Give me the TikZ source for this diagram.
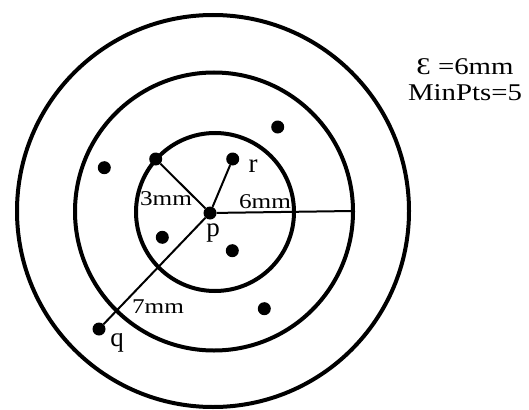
\documentclass[tikz,border=0pt]{standalone}
\usepackage{fontspec}
\setmainfont{Liberation Serif}
\newfontfamily\widefont[FakeStretch=1.2]{Liberation Serif}
\usetikzlibrary{positioning}

\begin{document}
\begin{tikzpicture}[x=1pt,y=-1pt,
  dot/.style={circle,fill,inner sep=0pt,minimum size=13pt},
  ring/.style={line width=4pt},
  spoke/.style={line width=2pt},
  dist/.style={font=\widefont\fontsize{21}{23}\selectfont,inner sep=0pt},
  ptlabel/.style={font=\fontsize{27}{29}\selectfont,inner sep=0pt},
  paramtext/.style={font=\widefont\fontsize{24}{26}\selectfont,inner sep=0pt,align=center}]
\useasboundingbox (0,0) rectangle (529,409);
% Circles round p
\draw[ring] (213,211) circle[radius=196pt];
\draw[ring] (214,211.5) circle[radius=139pt];
\draw[ring] (215,212) circle[radius=79pt];
% Points
\node[dot] (p) at (210,213) {};
\node[dot] (a) at (155.7,159) {};
\node[dot] (r) at (232.7,159) {};
\node[dot] (q) at (99,329) {};
\node[dot] (b) at (104.3,167.7) {};
\node[dot] (c) at (277.7,127) {};
\node[dot] (d) at (162.3,237.3) {};
\node[dot] (e) at (232.3,250.7) {};
\node[dot] (f) at (264.3,308.7) {};
\coordinate (rim) at (352,211);
% Spokes
\draw[spoke] (p) -- (a);
\draw[spoke] (p) -- (r);
\draw[spoke] (p) -- (q);
\draw[spoke] (p) -- (rim);
% Labels
\node[dist] at (166,199) {3mm};
\node[dist] at (265,202) {6mm};
\node[dist] at (158,307) {7mm};
\node[ptlabel] at (213,233) {p};
\node[ptlabel] at (253,166) {r};
\node[ptlabel] at (117,343) {q};
\node[paramtext] at (465,80) {Ɛ =6mm\\MinPts=5};
\end{tikzpicture}
\end{document}
